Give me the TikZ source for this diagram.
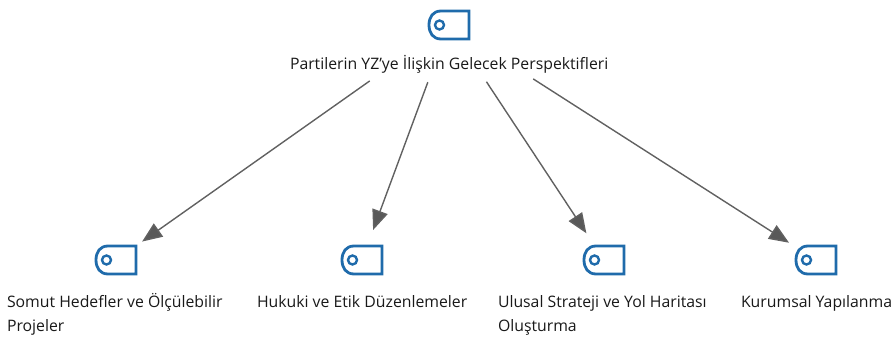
\documentclass[tikz,border=0pt]{standalone}
\usepackage{fontspec}
\setmainfont{Open Sans}
\usetikzlibrary{arrows.meta}
\tikzset{
  x=1pt,y=-1pt,
  hub/.style={circle,minimum size=64pt,inner sep=0pt,outer sep=0pt},
  lbl/.style={inner sep=0pt,outer sep=0pt,anchor=base west,align=left,font=\fontsize{15.8}{24}\selectfont,text=black!90},
  link/.style={draw=black!62,line width=1.4pt,-{Triangle[length=20pt,width=16pt,fill=black!65]}},
  iconline/.style={line width=2.8pt,color={rgb,255:red,31;green,107;blue,171}},
  pics/tagicon/.style={code={
    \draw[iconline] (-8,-14) -- (20,-14) -- (20,14) -- (-8,14)
      .. controls (-16,14) and (-20,8) .. (-20,0)
      .. controls (-20,-8) and (-16,-14) .. (-8,-14) -- cycle;
    \draw[iconline,line width=2.4pt] (-9.5,0) circle (4.5pt);
  }}
}
\begin{document}
\begin{tikzpicture}
\useasboundingbox (0,0) rectangle (893,339);
\node[hub] (top) at (449,25) {};
\node[hub] (b1) at (116,260) {};
\node[hub] (b2) at (362,260) {};
\node[hub] (b3) at (604,260) {};
\node[hub] (b4) at (816,260) {};
\pic at (top) {tagicon};
\pic at (b1) {tagicon};
\pic at (b2) {tagicon};
\pic at (b3) {tagicon};
\pic at (b4) {tagicon};
\node[lbl] (ltop) at (290,70) {Partilerin YZ’ye İlişkin Gelecek Perspektifleri};
\node[lbl] (l1) at (7,331) {Somut Hedefler ve Ölçülebilir\\Projeler};
\node[lbl] (l2) at (257,307) {Hukuki ve Etik Düzenlemeler};
\node[lbl] (l3) at (498,331) {Ulusal Strateji ve Yol Haritası\\Oluşturma};
\node[lbl] (l4) at (741,307) {Kurumsal Yapılanma};
\draw[link,shorten <=65pt] (top) -- (b1);
\draw[link,shorten <=29pt] (top) -- (b2);
\draw[link,shorten <=36pt] (top) -- (b3);
\draw[link,shorten <=68pt] (top) -- (b4);
\end{tikzpicture}
\end{document}
